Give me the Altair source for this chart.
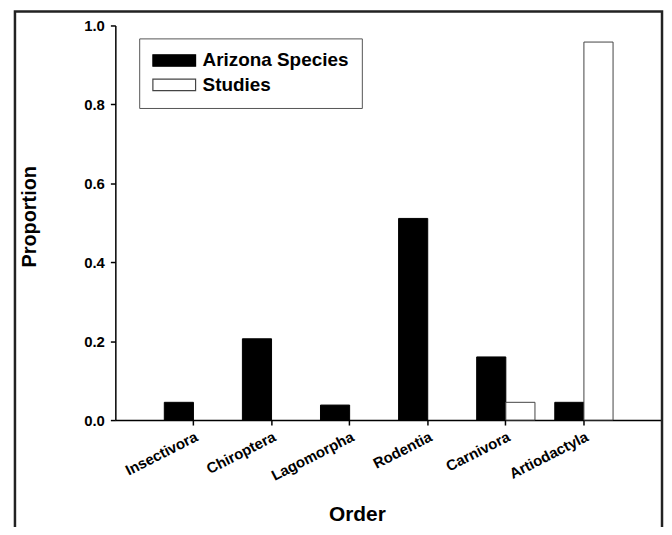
import altair as alt
import pandas as pd

orders = ["Insectivora", "Chiroptera", "Lagomorpha", "Rodentia", "Carnivora", "Artiodactyla"]
arizona_species = [0.045, 0.206, 0.038, 0.511, 0.160, 0.045]
studies = [0.0, 0.0, 0.0, 0.0, 0.045, 0.958]
series_names = ["Arizona Species", "Studies"]
y_ticks = [0.0, 0.2, 0.4, 0.6, 0.8, 1.0]

rows = []
for o, a, s in zip(orders, arizona_species, studies):
    rows.append({"order": o, "series": series_names[0], "value": a})
    rows.append({"order": o, "series": series_names[1], "value": s})
df = pd.DataFrame(rows)

FONT = "Liberation Sans"

bars = alt.Chart(df).transform_filter(alt.datum.value > 0).mark_bar(
    strokeWidth=1, clip=False
).encode(
    x=alt.X("order:N", sort=orders,
            scale=alt.Scale(paddingInner=0, paddingOuter=0.5),
            axis=alt.Axis(title="Order", labelAngle=333, labelAlign="right",
                          labelBaseline="top", labelPadding=4, labelFontSize=15,
                          titleFontSize=21, titleX=243, titleY=101,
                          titleBaseline="alphabetic", titleAnchor="start",
                          titleAlign="center")),
    xOffset=alt.XOffset("series:N", sort=series_names,
                        scale=alt.Scale(paddingInner=0, paddingOuter=0.34)),
    y=alt.Y("value:Q", scale=alt.Scale(domain=[0, 1], nice=False),
            axis=alt.Axis(title="Proportion", values=y_ticks, format=".1f",
                          labelFontSize=15,
                          titleFontSize=20, titleAngle=270, titleX=-80,
                          titleY=192, titleAlign="center",
                          titleBaseline="alphabetic", labelPadding=6)),
    fill=alt.Fill("series:N", sort=series_names,
                  scale=alt.Scale(domain=series_names, range=["#000000", "#ffffff"]),
                  legend=alt.Legend(title=None, orient="none", legendX=24, legendY=13,
                                    symbolType="M-3.58,-0.95H3.58V0.95H-3.58Z", symbolSize=144,
                                    symbolOffset=13,
                                    symbolStrokeWidth=1.2, symbolStrokeColor="#333333",
                                    labelFontSize=19, labelFont=FONT, labelFontWeight="bold",
                                    labelColor="#000000", labelOffset=19,
                                    rowPadding=4.5, padding=12.75, strokeColor="#555555",
                                    fillColor="#ffffff")),
    stroke=alt.Stroke("series:N", sort=series_names,
                      scale=alt.Scale(domain=series_names, range=["#000000", "#444444"]),
                      legend=None),
)

frame = alt.Chart(pd.DataFrame({"f": [0]})).mark_rect(
    fillOpacity=0, stroke="#222222", strokeWidth=2.5, clip=False
).encode(
    x=alt.value(-101), x2=alt.value(550), y=alt.value(-14), y2=alt.value(530)
)

chart = alt.layer(frame, bars).properties(
    width=550, height=397,
    autosize=alt.AutoSizeParams(type="none"),
    padding={"left": 108, "top": 16, "right": 2, "bottom": 106},
).configure_axis(
    labelFont=FONT, labelFontWeight="bold", labelColor="#000000",
    titleFont=FONT, titleFontWeight="bold", titleColor="#000000",
    domainColor="#000000", domainWidth=1.5, tickColor="#000000", tickWidth=1.5,
    tickSize=5, grid=False,
).configure_view(stroke=None)

chart.save("out.html", embed_options={"renderer": "svg", "actions": False})
